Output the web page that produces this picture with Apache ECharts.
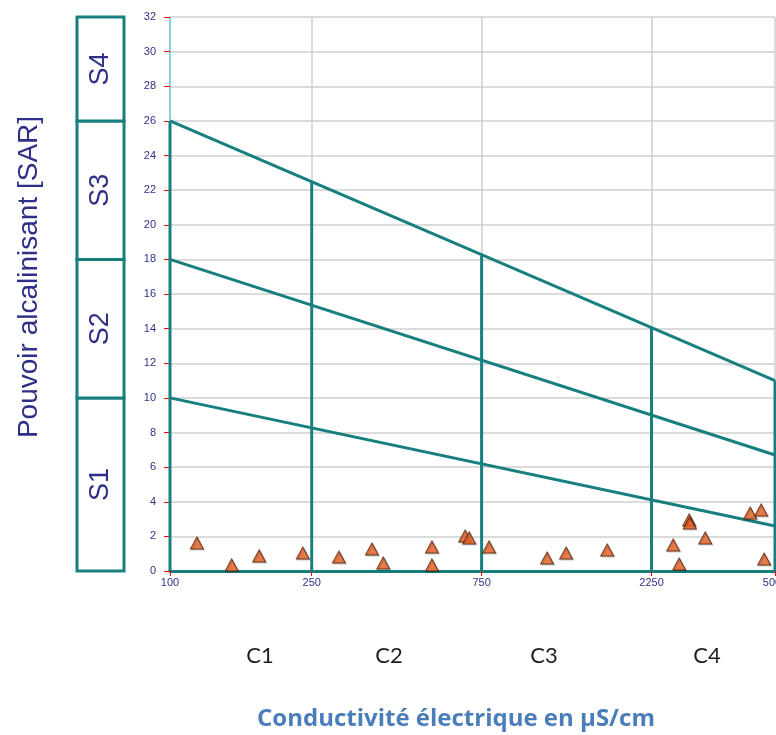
<!DOCTYPE html>
<html>
<head>
<meta charset="utf-8">
<script src="https://cdn.jsdelivr.net/npm/echarts@6/dist/echarts.min.js"></script>
<style>
  html, body { margin: 0; padding: 0; background: #fff; }
  #main { width: 776px; height: 735px; }
</style>
</head>
<body>
<div id="main"></div>
<script>
// classes de conductivité (µS/cm)
var ecBounds = [100, 250, 750, 2250, 5000];
var classLabels = ["C1", "C2", "C3", "C4"];
// classes SAR
var sarBounds = [0, 10, 18, 26, 32];
var sarLabels = ["S1", "S2", "S3", "S4"];
// hauteur des verticales (jusqu'à la ligne haute)
var verticalTops = [26, 22.5, 18.2, 14.1, 11];
// lignes obliques : valeur à 100 et à 5000 µS/cm
var lineHigh = [26, 11];
var lineMid = [18, 6.7];
var lineLow = [10, 2.6];
// échantillons
var ecValues = [119, 149, 178, 236, 298, 369, 397, 544, 544, 674, 692, 787,
  1145, 1295, 1689, 2588, 2690, 2870, 2880, 3184, 4258, 4570, 4660];
var sarValues = [1.62, 0.35, 0.87, 1.04, 0.81, 1.27, 0.46, 1.39, 0.35, 2.02, 1.91, 1.39,
  0.75, 1.04, 1.21, 1.5, 0.4, 2.95, 2.77, 1.91, 3.35, 3.52, 0.69];

var teal = "#17807f";
var navy = "#2e3087";

var chartDom = document.getElementById("main");
var myChart = echarts.init(chartDom);

var series = [];

// lignes obliques
[lineHigh, lineMid, lineLow].forEach(function (l) {
  series.push({
    type: "line",
    silent: true,
    symbol: "none",
    data: [[ecBounds[0], l[0]], [ecBounds[ecBounds.length - 1], l[1]]],
    lineStyle: { color: teal, width: 3 },
    z: 3,
  });
});

// verticales
ecBounds.forEach(function (x, i) {
  series.push({
    type: "line",
    silent: true,
    symbol: "none",
    data: [[x, 0], [x, verticalTops[i]]],
    lineStyle: { color: teal, width: 3 },
    z: 3,
  });
});

// points
series.push({
  type: "scatter",
  symbol: "triangle",
  symbolSize: [13, 12],
  data: ecValues.map(function (v, i) { return [v, sarValues[i]]; }),
  itemStyle: {
    color: "#ec6428",
    borderColor: "#5a2208",
    borderWidth: 1,
    shadowColor: "rgba(0,0,0,0.25)",
    shadowBlur: 1,
    shadowOffsetX: 1,
    shadowOffsetY: 1,
  },
  z: 5,
});

// cases S1..S4
series.push({
  type: "custom",
  xAxisIndex: 1,
  yAxisIndex: 1,
  silent: true,
  data: sarLabels.map(function (s, i) { return [sarBounds[i], sarBounds[i + 1]]; }),
  renderItem: function (params, api) {
    var lo = api.value(0), hi = api.value(1);
    var p0 = api.coord([0, hi]);
    var p1 = api.coord([1, lo]);
    return {
      type: "group",
      children: [
        {
          type: "rect",
          shape: { x: p0[0], y: p0[1], width: p1[0] - p0[0], height: p1[1] - p0[1] },
          style: { fill: "#fff", stroke: teal, lineWidth: 3 },
        },
        {
          type: "text",
          x: (p0[0] + p1[0]) / 2,
          y: (p0[1] + p1[1]) / 2,
          rotation: Math.PI / 2,
          style: {
            text: sarLabels[params.dataIndex],
            fill: navy,
            font: '27px "Liberation Sans"',
            align: "center",
            verticalAlign: "middle",
          },
        },
      ],
    };
  },
});

var option = {
  backgroundColor: "#fff",
  animation: false,
  grid: [
    { left: 170, right: 1, top: 17, bottom: 164, outerBoundsMode: "none" },
    { left: 77, width: 47, top: 17, bottom: 164, outerBoundsMode: "none" },
  ],
  xAxis: [
    {
      type: "log",
      min: 100,
      max: 5000,
      axisLine: { show: true, lineStyle: { color: teal, width: 3 } },
      axisTick: {
        show: true,
        length: 5,
        customValues: ecBounds,
        lineStyle: { color: "#f00", width: 1 },
      },
      axisLabel: {
        customValues: ecBounds,
        formatter: function (v) { return String(Math.round(v)); },
        color: navy,
        fontSize: 11,
        fontFamily: "Liberation Sans",
        margin: 6,
      },
      splitLine: { show: true, lineStyle: { color: "#cfcfcf", width: 1.5 } },
      minorTick: { show: false },
    },
    { gridIndex: 1, type: "value", min: 0, max: 1, show: false },
  ],
  yAxis: [
    {
      type: "value",
      min: 0,
      max: 32,
      interval: 2,
      axisLine: { show: true, lineStyle: { color: "#6fd3d3", width: 1.5 } },
      axisTick: { show: true, length: 6, lineStyle: { color: "#f00", width: 1 } },
      axisLabel: {
        color: navy,
        fontSize: 11,
        fontFamily: "Liberation Sans",
        margin: 14,
      },
      splitLine: { show: true, lineStyle: { color: "#cfcfcf", width: 1.5 } },
    },
    { gridIndex: 1, type: "value", min: 0, max: 32, show: false },
  ],
  graphic: [
    {
      type: "text",
      x: 29,
      y: 277,
      rotation: Math.PI / 2,
      style: {
        text: "Pouvoir alcalinisant [SAR]",
        fill: navy,
        font: '28px "Liberation Sans"',
        align: "center",
        verticalAlign: "middle",
      },
    },
    { type: "text", x: 260, y: 656, style: { text: classLabels[0], fill: "#1e1e1e", font: '22px "Lato"', align: "center", verticalAlign: "middle" } },
    { type: "text", x: 389, y: 656, style: { text: classLabels[1], fill: "#1e1e1e", font: '22px "Lato"', align: "center", verticalAlign: "middle" } },
    { type: "text", x: 544, y: 656, style: { text: classLabels[2], fill: "#1e1e1e", font: '22px "Lato"', align: "center", verticalAlign: "middle" } },
    { type: "text", x: 707, y: 656, style: { text: classLabels[3], fill: "#1e1e1e", font: '22px "Lato"', align: "center", verticalAlign: "middle" } },
    {
      type: "text",
      x: 456,
      y: 719,
      style: {
        text: "Conductivité électrique en µS/cm",
        fill: "#4a7ebb",
        font: 'bold 24px "Open Sans"',
        align: "center",
        verticalAlign: "middle",
      },
    },
  ],
  series: series,
};

option && myChart.setOption(option);
</script>
</body>
</html>
